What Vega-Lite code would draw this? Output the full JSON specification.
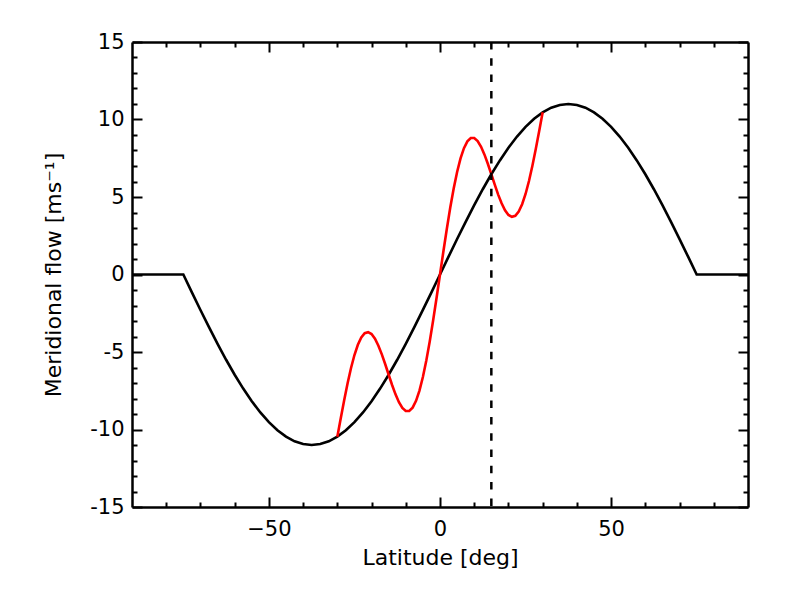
{
  "$schema": "https://vega.github.io/schema/vega-lite/v6.json",
  "width": 616,
  "height": 465,
  "autosize": {"type": "none"},
  "padding": {"left": 132, "top": 42, "right": 38, "bottom": 84},
  "background": "white",
  "config": {
    "view": {"stroke": null},
    "axis": {
      "labelFont": "DejaVu Sans", "labelFontSize": 21, "labelColor": "black",
      "titleFont": "DejaVu Sans", "titleFontSize": 22, "titleFontWeight": "normal", "titleColor": "black",
      "tickColor": "black", "tickWidth": 2, "domainColor": "black", "domainWidth": 2.5, "grid": false
    }
  },
  "datasets": {
    "black": [
      {"lat": -90, "v": 0}, {"lat": -75, "v": 0}, {"lat": -72.5, "v": -1.150}, {"lat": -70, "v": -2.287},
      {"lat": -67.5, "v": -3.399}, {"lat": -65, "v": -4.474}, {"lat": -62.5, "v": -5.5}, {"lat": -60, "v": -6.466},
      {"lat": -57.5, "v": -7.360}, {"lat": -55, "v": -8.175}, {"lat": -52.5, "v": -8.899}, {"lat": -50, "v": -9.526},
      {"lat": -47.5, "v": -10.049}, {"lat": -45, "v": -10.462}, {"lat": -42.5, "v": -10.760}, {"lat": -40, "v": -10.940},
      {"lat": -37.5, "v": -11}, {"lat": -35, "v": -10.940}, {"lat": -32.5, "v": -10.760}, {"lat": -30, "v": -10.462},
      {"lat": -27.5, "v": -10.049}, {"lat": -25, "v": -9.526}, {"lat": -22.5, "v": -8.899}, {"lat": -20, "v": -8.175},
      {"lat": -17.5, "v": -7.360}, {"lat": -15, "v": -6.466}, {"lat": -12.5, "v": -5.5}, {"lat": -10, "v": -4.474},
      {"lat": -7.5, "v": -3.399}, {"lat": -5, "v": -2.287}, {"lat": -2.5, "v": -1.150}, {"lat": 0, "v": 0},
      {"lat": 2.5, "v": 1.150}, {"lat": 5, "v": 2.287}, {"lat": 7.5, "v": 3.399}, {"lat": 10, "v": 4.474},
      {"lat": 12.5, "v": 5.5}, {"lat": 15, "v": 6.466}, {"lat": 17.5, "v": 7.360}, {"lat": 20, "v": 8.175},
      {"lat": 22.5, "v": 8.899}, {"lat": 25, "v": 9.526}, {"lat": 27.5, "v": 10.049}, {"lat": 30, "v": 10.462},
      {"lat": 32.5, "v": 10.760}, {"lat": 35, "v": 10.940}, {"lat": 37.5, "v": 11}, {"lat": 40, "v": 10.940},
      {"lat": 42.5, "v": 10.760}, {"lat": 45, "v": 10.462}, {"lat": 47.5, "v": 10.049}, {"lat": 50, "v": 9.526},
      {"lat": 52.5, "v": 8.899}, {"lat": 55, "v": 8.175}, {"lat": 57.5, "v": 7.360}, {"lat": 60, "v": 6.466},
      {"lat": 62.5, "v": 5.5}, {"lat": 65, "v": 4.474}, {"lat": 67.5, "v": 3.399}, {"lat": 70, "v": 2.287},
      {"lat": 72.5, "v": 1.150}, {"lat": 75, "v": 0}, {"lat": 90, "v": 0}
    ],
    "red": [
      {"lat": -30, "v": -10.462}, {"lat": -29, "v": -9.271}, {"lat": -28, "v": -8.107}, {"lat": -27, "v": -7.014},
      {"lat": -26, "v": -6.033}, {"lat": -25, "v": -5.196}, {"lat": -24, "v": -4.532}, {"lat": -23, "v": -4.060},
      {"lat": -22, "v": -3.789}, {"lat": -21, "v": -3.720}, {"lat": -20, "v": -3.844}, {"lat": -19, "v": -4.144},
      {"lat": -18, "v": -4.591}, {"lat": -17, "v": -5.154}, {"lat": -16, "v": -5.793}, {"lat": -15, "v": -6.466},
      {"lat": -14, "v": -7.127}, {"lat": -13, "v": -7.732}, {"lat": -12, "v": -8.238}, {"lat": -11, "v": -8.607},
      {"lat": -10, "v": -8.804}, {"lat": -9, "v": -8.805}, {"lat": -8, "v": -8.590}, {"lat": -7, "v": -8.152},
      {"lat": -6, "v": -7.491}, {"lat": -5, "v": -6.617}, {"lat": -4, "v": -5.550}, {"lat": -3, "v": -4.318},
      {"lat": -2, "v": -2.954}, {"lat": -1, "v": -1.500}, {"lat": 0, "v": 0},
      {"lat": 1, "v": 1.500}, {"lat": 2, "v": 2.954}, {"lat": 3, "v": 4.318}, {"lat": 4, "v": 5.550},
      {"lat": 5, "v": 6.617}, {"lat": 6, "v": 7.491}, {"lat": 7, "v": 8.152}, {"lat": 8, "v": 8.590},
      {"lat": 9, "v": 8.805}, {"lat": 10, "v": 8.804}, {"lat": 11, "v": 8.607}, {"lat": 12, "v": 8.238},
      {"lat": 13, "v": 7.732}, {"lat": 14, "v": 7.127}, {"lat": 15, "v": 6.466}, {"lat": 16, "v": 5.793},
      {"lat": 17, "v": 5.154}, {"lat": 18, "v": 4.591}, {"lat": 19, "v": 4.144}, {"lat": 20, "v": 3.844},
      {"lat": 21, "v": 3.720}, {"lat": 22, "v": 3.789}, {"lat": 23, "v": 4.060}, {"lat": 24, "v": 4.532},
      {"lat": 25, "v": 5.196}, {"lat": 26, "v": 6.033}, {"lat": 27, "v": 7.014}, {"lat": 28, "v": 8.107},
      {"lat": 29, "v": 9.271}, {"lat": 30, "v": 10.462}
    ],
    "marker": [{"lat": 15}]
  },
  "resolve": {"axis": {"x": "independent", "y": "independent"}},
  "layer": [
    {
      "data": {"name": "black"},
      "mark": {"type": "line", "color": "black", "strokeWidth": 2.6, "clip": true},
      "encoding": {
        "x": {"field": "lat", "type": "quantitative",
          "scale": {"domain": [-90, 90], "nice": false, "zero": false},
          "axis": {"orient": "bottom", "values": [-50, 0, 50], "tickSize": -10, "labelPadding": 21,
            "title": "Latitude [deg]", "titlePadding": 8, "labelFlush": false}},
        "y": {"field": "v", "type": "quantitative",
          "scale": {"domain": [-15, 15], "nice": false, "zero": false},
          "axis": {"orient": "left", "values": [-15, -10, -5, 0, 5, 10, 15], "tickSize": -10, "labelPadding": 18,
            "labelExpr": "replace(datum.label, '−', '-')",
            "title": "Meridional flow [ms⁻¹]", "titlePadding": 24, "labelFlush": false}}
      }
    },
    {
      "data": {"name": "red"},
      "mark": {"type": "line", "color": "#ff0000", "strokeWidth": 2.6},
      "encoding": {
        "x": {"field": "lat", "type": "quantitative",
          "axis": {"orient": "bottom", "values": [-80, -70, -60, -40, -30, -20, -10, 10, 20, 30, 40, 60, 70, 80],
            "tickSize": -5, "labels": false, "domain": false, "title": null}},
        "y": {"field": "v", "type": "quantitative",
          "axis": {"orient": "left", "values": [-14, -13, -12, -11, -9, -8, -7, -6, -4, -3, -2, -1, 1, 2, 3, 4, 6, 7, 8, 9, 11, 12, 13, 14],
            "tickSize": -5, "labels": false, "domain": false, "title": null}}
      }
    },
    {
      "data": {"name": "marker"},
      "mark": {"type": "rule", "color": "black", "strokeWidth": 2.5, "strokeDash": [7.5, 8.8]},
      "encoding": {
        "x": {"field": "lat", "type": "quantitative",
          "axis": {"orient": "top", "values": [-50, 0, 50], "tickSize": -10, "labels": false, "title": null}}
      }
    },
    {
      "data": {"name": "black"},
      "mark": {"type": "line", "strokeOpacity": 0},
      "encoding": {
        "x": {"field": "lat", "type": "quantitative",
          "axis": {"orient": "top", "values": [-80, -70, -60, -40, -30, -20, -10, 10, 20, 30, 40, 60, 70, 80],
            "tickSize": -5, "labels": false, "domain": false, "title": null}},
        "y": {"field": "v", "type": "quantitative",
          "axis": {"orient": "right", "values": [-15, -10, -5, 0, 5, 10, 15], "tickSize": -10, "labels": false, "title": null}}
      }
    },
    {
      "data": {"name": "black"},
      "mark": {"type": "line", "strokeOpacity": 0},
      "encoding": {
        "x": {"field": "lat", "type": "quantitative", "axis": null},
        "y": {"field": "v", "type": "quantitative",
          "axis": {"orient": "right", "values": [-14, -13, -12, -11, -9, -8, -7, -6, -4, -3, -2, -1, 1, 2, 3, 4, 6, 7, 8, 9, 11, 12, 13, 14],
            "tickSize": -5, "labels": false, "domain": false, "title": null}}
      }
    }
  ]
}
